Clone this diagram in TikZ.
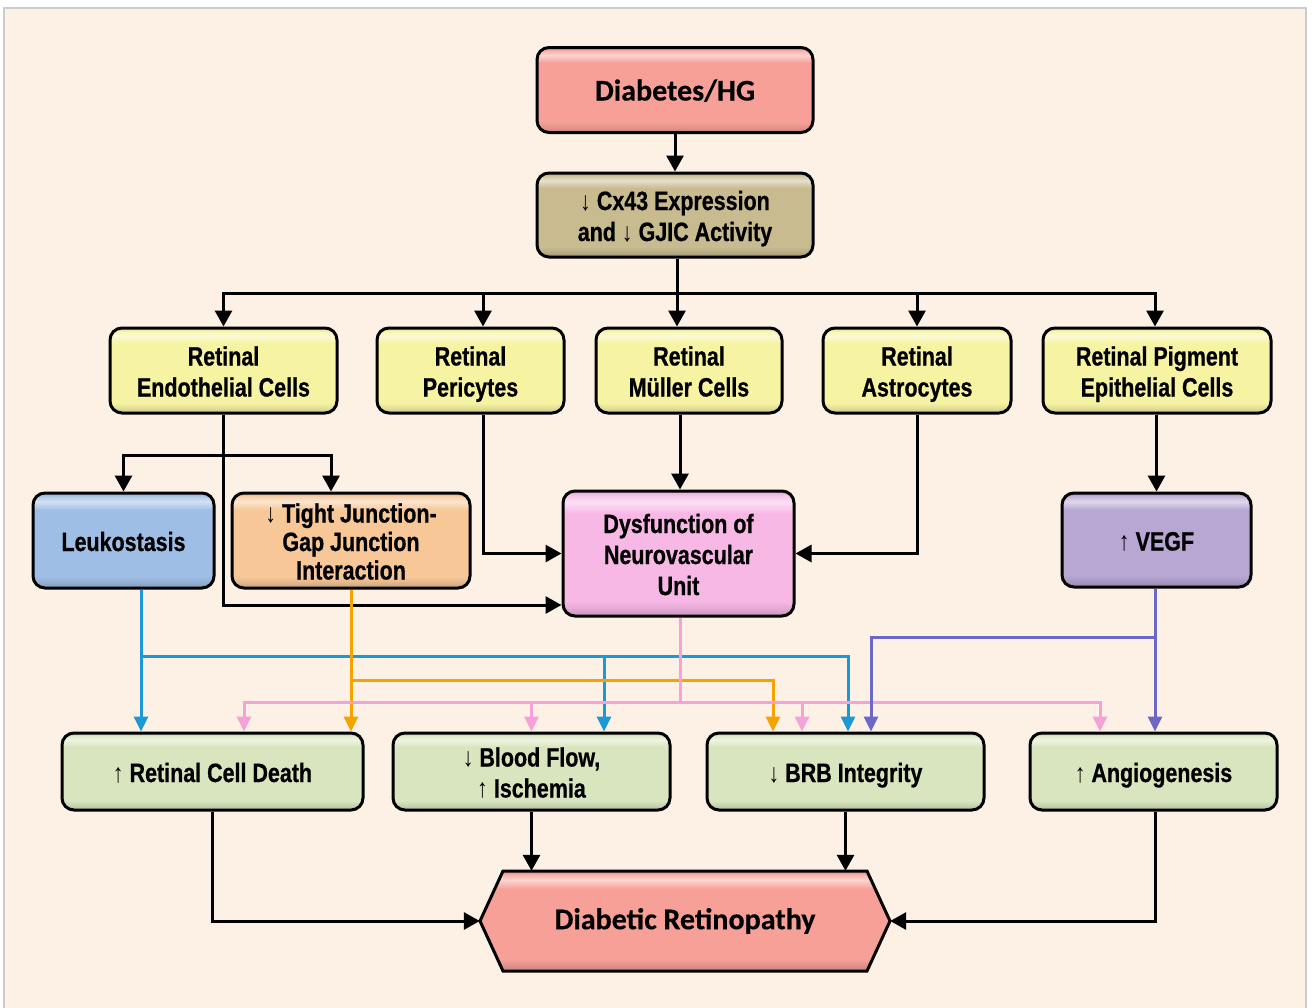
\documentclass[tikz,border=0pt]{standalone}
\usepackage{fontspec}
\usetikzlibrary{arrows.meta,calc}
\newfontfamily\narf[FakeStretch=0.81, BoldFeatures={FakeBold=0.7}]{Liberation Sans}
\newfontfamily\calf[BoldFeatures={FakeBold=0.4}]{Carlito}
\newcommand\myDn{{\mdseries ↓}}
\newcommand\myUp{{\mdseries ↑}}
\newcommand\mystrt{\rule{0pt}{27pt}}
\newcommand\myend{\rule[-6pt]{0pt}{6pt}}
\definecolor{bg}{HTML}{FDF0E4}
\definecolor{frame}{HTML}{CCCCCC}
\definecolor{cDia}{HTML}{F6A098}
\definecolor{cCx}{HTML}{C8BB90}
\definecolor{cYel}{HTML}{F6F3A2}
\definecolor{cLeu}{HTML}{9FBEE5}
\definecolor{cTig}{HTML}{F7C797}
\definecolor{cDys}{HTML}{F8B8E6}
\definecolor{cVeg}{HTML}{B8A6D3}
\definecolor{cGrn}{HTML}{D9E5BE}
\definecolor{lBlue}{HTML}{1B99D4}
\definecolor{lOrg}{HTML}{F4A300}
\definecolor{lPink}{HTML}{F7A1D9}
\definecolor{lPur}{HTML}{6C68C6}
\newcommand\defbevel[1]{%
  \pgfdeclareverticalshading{bevel#1}{100bp}{%
    color(0bp)=(#1!80!black); color(25bp)=(#1!80!black);
    color(28bp)=(#1!92!black); color(31bp)=(#1);
    color(66bp)=(#1); color(70.5bp)=(#1!45!white);
    color(73bp)=(#1!80!white); color(75bp)=(#1!90!black); color(100bp)=(#1!90!black)}}
\defbevel{cDia}\defbevel{cCx}\defbevel{cYel}\defbevel{cLeu}\defbevel{cTig}
\defbevel{cDys}\defbevel{cVeg}\defbevel{cGrn}
\tikzset{
  fillc/.style={shading=bevel#1},
  box/.style={draw=black, line width=3pt, rounded corners=12pt, align=center,
    inner sep=0pt, text=black, font=\narf\bfseries\fontsize{26.5}{31}\selectfont},
  conn/.style={draw=black, line width=3pt, -{Triangle[length=16pt,width=17pt]}},
  cline/.style={line width=3pt, -{Triangle[length=15pt,width=14pt]}},
  bconn/.style={cline, draw=lBlue},
  oconn/.style={cline, draw=lOrg},
  pconn/.style={cline, draw=lPink},
  vconn/.style={cline, draw=lPur},
}
\begin{document}
\begin{tikzpicture}[x=1pt,y=-1pt]
\useasboundingbox (0,0) rectangle (1312,1007);
\fill[white] (0,0) rectangle (1312,1007);
\filldraw[fill=bg, draw=frame, line width=2pt] (3.5,7.5) rectangle (1306,1012);

% top
\node[box, fillc=cDia, minimum width=276pt, minimum height=85pt,
  font=\calf\bfseries\fontsize{30}{34}\selectfont] (dia) at (675,90) {\mystrt Diabetes/HG\myend};
\node[box, fillc=cCx, minimum width=276pt, minimum height=84pt] (cx) at (675,215)
  {\mystrt\myDn{} Cx43 Expression\\and \myDn{} GJIC Activity\myend};

% cell row
\node[box, fillc=cYel, minimum width=227pt, minimum height=85pt] (endo) at (223.5,370.5) {\mystrt Retinal\\Endothelial Cells\myend};
\node[box, fillc=cYel, minimum width=187pt, minimum height=85pt] (peri) at (470.5,370.5) {\mystrt Retinal\\Pericytes\myend};
\node[box, fillc=cYel, minimum width=186pt, minimum height=85pt] (mul) at (689,370.5) {\mystrt Retinal\\Müller Cells\myend};
\node[box, fillc=cYel, minimum width=188pt, minimum height=85pt] (astro) at (917,370.5) {\mystrt Retinal\\Astrocytes\myend};
\node[box, fillc=cYel, minimum width=228pt, minimum height=85pt] (rpe) at (1157,370.5) {\mystrt Retinal Pigment\\Epithelial Cells\myend};

% second row
\node[box, fillc=cLeu, minimum width=181pt, minimum height=95pt] (leuk) at (123.5,540.5) {\mystrt Leukostasis\myend};
\node[box, fillc=cTig, minimum width=238pt, minimum height=95pt,
  font=\narf\bfseries\fontsize{26.5}{28.5}\selectfont] (tight) at (351,540.5) {\mystrt\myDn{} Tight Junction-\\Gap Junction\\Interaction\myend};
\node[box, fillc=cDys, minimum width=231pt, minimum height=125pt] (dys) at (678.5,553.5) {\mystrt Dysfunction of\\Neurovascular\\Unit\myend};
\node[box, fillc=cVeg, minimum width=189pt, minimum height=94pt] (vegf) at (1156.5,540) {\mystrt\myUp{} VEGF\myend};

% outcome row
\node[box, fillc=cGrn, minimum width=301pt, minimum height=77pt] (death) at (212.5,771.5) {\mystrt\myUp{} Retinal Cell Death\myend};
\node[box, fillc=cGrn, minimum width=277pt, minimum height=77pt] (blood) at (531.5,771.5) {\mystrt\myDn{} Blood Flow,\\\myUp{} Ischemia\myend};
\node[box, fillc=cGrn, minimum width=277pt, minimum height=77pt] (brb) at (845.5,771.5) {\mystrt\myDn{} BRB Integrity\myend};
\node[box, fillc=cGrn, minimum width=247pt, minimum height=77pt] (ang) at (1153.5,771.5) {\mystrt\myUp{} Angiogenesis\myend};

% diabetic retinopathy hexagon
\path[fillc=cDia, draw=black, line width=3pt, line join=miter]
  (480,921) -- (503,871) -- (867,871) -- (890,921) -- (867,971) -- (503,971) -- cycle;
\node[minimum width=410pt, minimum height=100pt, inner sep=0pt, text=black,
  font=\calf\bfseries\fontsize{30}{34}\selectfont] (dr) at (685,921) {Diabetic Retinopathy};

% helper coordinates
\coordinate (bus) at (677,293);
\coordinate (eb) at (223,455);
\coordinate (e1) at (223,605);
\coordinate (b0) at (141,656);
\coordinate (o0) at (351,680);
\coordinate (p0) at (680,702);
\coordinate (v0) at (1155,637);

% black connectors
\draw[conn] (dia.south) -- (cx.north);
\draw[conn] (cx.south -| bus) -- (mul.north -| bus);
\draw[conn] (bus) -| (endo.north);
\draw[conn] (bus) -| ($(peri.north)+(12.5,0)$);
\draw[conn] (bus) -| (astro.north);
\draw[conn] (bus) -| ($(rpe.north)+(-2,0)$);

\draw[conn] (endo.south) |- (dys.west |- e1);
\draw[conn] (eb) -| (leuk.north);
\draw[conn] (eb) -| ($(tight.north)+(-20,0)$);
\draw[conn] ($(peri.south)+(12.5,0)$) |- (dys.west);
\draw[conn] (mul.south -| p0) -- (dys.north -| p0);
\draw[conn] (astro.south) |- (dys.east);
\draw[conn] ($(rpe.south)+(-0.5,0)$) -- ($(vegf.north)$);

% blue (leukostasis)
\draw[bconn] (leuk.south -| b0) -- (death.north -| b0);
\draw[bconn] (b0) -| ($(blood.north)+(72.5,0)$);
\draw[bconn] (b0) -| ($(brb.north)+(2.5,0)$);

% orange (tight junction)
\draw[oconn] (tight.south) -- (death.north -| o0);
\draw[oconn] (o0) -| ($(brb.north)+(-72.5,0)$);

% pink (dysfunction)
\draw[draw=lPink, line width=3pt] (dys.south -| p0) -- (p0);
\draw[pconn] (p0) -| ($(death.north)+(31.5,0)$);
\draw[pconn] (p0) -| (blood.north);
\draw[pconn] (p0) -| ($(brb.north)+(-43.5,0)$);
\draw[pconn] (p0) -| ($(ang.north)+(-53.5,0)$);

% purple (VEGF)
\draw[vconn] (vegf.south -| v0) -- (ang.north -| v0);
\draw[vconn] (v0) -| ($(brb.north)+(25.5,0)$);

% to diabetic retinopathy
\draw[conn] (death.south) |- (dr.west);
\draw[conn] (blood.south) -- (blood.south |- dr.north);
\draw[conn] (brb.south) -- (brb.south |- dr.north);
\draw[conn] (ang.south -| v0) |- (dr.east);
\end{tikzpicture}
\end{document}
